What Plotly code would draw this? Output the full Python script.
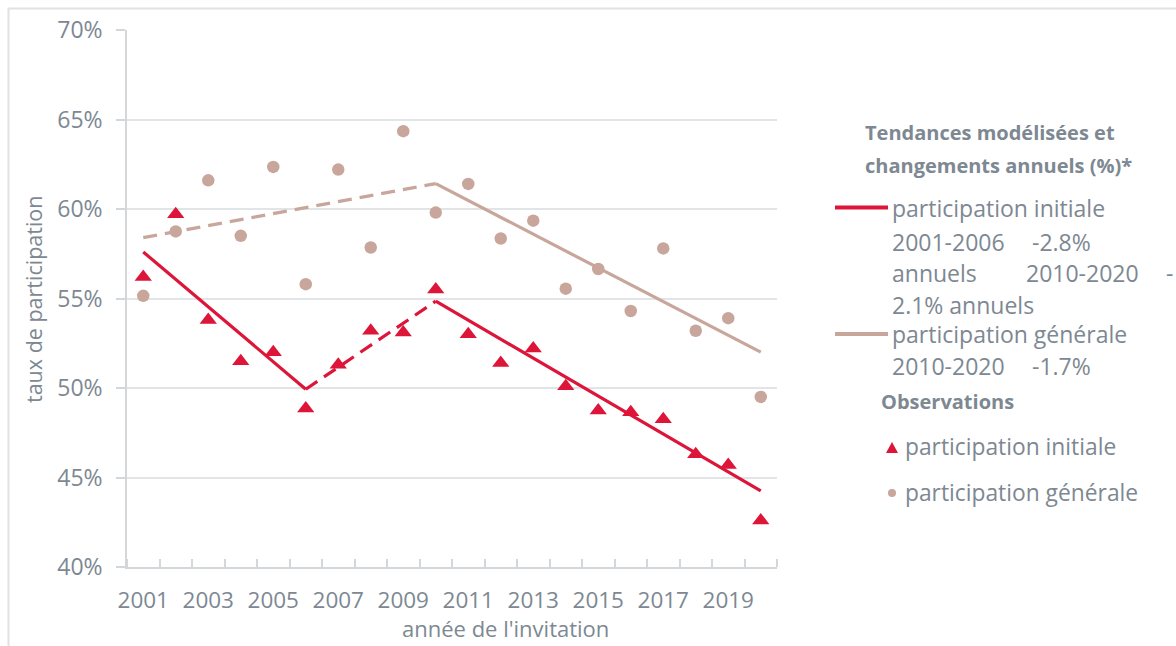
import plotly.graph_objects as go

# ---- data ----
years = list(range(2001, 2021))
initiale_obs = [56.2, 59.7, 53.8, 51.5, 52.0, 48.85, 51.3, 53.2, 53.1, 55.5,
                53.0, 51.4, 52.2, 50.1, 48.75, 48.65, 48.25, 46.3, 45.7, 42.6]
generale_obs = [55.15, 58.75, 61.6, 58.5, 62.35, 55.8, 62.2, 57.85, 64.35, 59.8,
                61.4, 58.35, 59.35, 55.55, 56.65, 54.3, 57.8, 53.2, 53.9, 49.5]

# modelled trends (segment end points)
init_trend1_x = [2001, 2006]
init_trend1_y = [57.6, 49.93]
init_trend2_x = [2006, 2010]
init_trend2_y = [49.93, 54.85]
init_trend3_x = [2010, 2020]
init_trend3_y = [54.85, 44.25]
gen_trend1_x = [2001, 2010]
gen_trend1_y = [58.4, 61.42]
gen_trend2_x = [2010, 2020]
gen_trend2_y = [61.42, 52.0]

y_ticks = [40, 45, 50, 55, 60, 65, 70]
x_tick_years = [2001, 2003, 2005, 2007, 2009, 2011, 2013, 2015, 2017, 2019]

RED = "#DC1539"
TAN = "#C8A69B"
GREY = "#7D8892"
GRID = "#E2E5E7"
AXIS = "#D3D7DA"
FONT = "Open Sans"

W, H = 1176, 646
L, R, T, B = 127, 777, 30, 567

fig = go.Figure()

def seg(x, y, color, dash):
    fig.add_trace(go.Scatter(x=x, y=y, mode="lines",
                             line=dict(color=color, width=3.2, dash=dash),
                             showlegend=False, hoverinfo="skip"))

seg(gen_trend1_x, gen_trend1_y, TAN, "14px,8px")
seg(gen_trend2_x, gen_trend2_y, TAN, "solid")
seg(init_trend1_x, init_trend1_y, RED, "solid")
seg(init_trend2_x, init_trend2_y, RED, "14px,8px")
seg(init_trend3_x, init_trend3_y, RED, "solid")

fig.add_trace(go.Scatter(x=years, y=generale_obs, mode="markers",
                         marker=dict(symbol="circle", size=12.5, color=TAN),
                         showlegend=False))
fig.add_trace(go.Scatter(x=years, y=initiale_obs, mode="markers",
                         marker=dict(symbol="triangle-up", size=15, color=RED),
                         showlegend=False))

boundaries = [y - 0.5 for y in years] + [years[-1] + 0.5]

fig.update_xaxes(
    range=[years[0] - 0.5, years[-1] + 0.5],
    tickmode="array", tickvals=x_tick_years, ticktext=[str(v) for v in x_tick_years],
    ticks="", showgrid=False, zeroline=False,
    showline=True, linecolor=AXIS, linewidth=1.5,
    tickfont=dict(family=FONT, size=22.5, color=GREY),
    ticklabelstandoff=12,
    minor=dict(tickmode="array", tickvals=boundaries, ticks="inside",
               ticklen=8, tickcolor=AXIS, tickwidth=1.5, showgrid=False),
)
fig.update_yaxes(
    range=[40, 70], tickmode="array", tickvals=y_ticks,
    ticktext=[f"{v}%" for v in y_ticks],
    ticks="outside", ticklen=9, tickcolor=AXIS, tickwidth=1.5,
    showgrid=True, gridcolor=GRID, gridwidth=1.5, zeroline=False,
    showline=True, linecolor=AXIS, linewidth=1.5,
    tickfont=dict(family=FONT, size=23, color=GREY),
    ticklabelstandoff=9,
)

def px_x(p):
    return (p - L) / (R - L)

def px_y(p):
    return (B - p) / (B - T)

annos = []
def txt(s, x, y, size=23, bold=False, color=GREY, xanchor="left", angle=0):
    annos.append(dict(text=f"<b>{s}</b>" if bold else s, xref="paper", yref="paper",
                      x=px_x(x), y=px_y(y), xanchor=xanchor, yanchor="middle",
                      textangle=angle, showarrow=False, borderpad=0,
                      font=dict(family=FONT, size=size, color=color)))

# axis titles
txt("année de l'invitation", 505, 628, 22, xanchor="center")
txt("taux de participation", 33, 300, 21.5, xanchor="center", angle=-90)

# custom legend
txt("Tendances modélisées et", 864, 132, 20, True)
txt("changements annuels (%)*", 864, 165, 20, True)
txt("participation initiale", 891, 208)
txt("2001-2006", 891, 242)
txt("-2.8%", 1031, 242)
txt("annuels", 891, 273)
txt("2010-2020", 1025, 273)
txt("-", 1165, 273)
txt("2.1% annuels", 891, 305)
txt("participation générale", 891, 334)
txt("2010-2020", 891, 366)
txt("-1.7%", 1031, 366)
txt("Observations", 880, 402, 20, True)
txt("participation initiale", 904, 446, 22.8)
txt("participation générale", 904, 492, 22.8)

shapes = [
    # outer frame
    dict(type="rect", xref="paper", yref="paper", x0=px_x(8.5), x1=px_x(1200),
         y0=px_y(8.5), y1=px_y(700), line=dict(color="#DFE3E3", width=2)),
    # legend keys
    dict(type="line", xref="paper", yref="paper", x0=px_x(835), x1=px_x(888),
         y0=px_y(207.5), y1=px_y(207.5), line=dict(color=RED, width=4)),
    dict(type="line", xref="paper", yref="paper", x0=px_x(835), x1=px_x(888),
         y0=px_y(334), y1=px_y(334), line=dict(color=TAN, width=4)),
    dict(type="path", xref="paper", yref="paper",
         path=f"M {px_x(886)} {px_y(453)} L {px_x(898)} {px_y(453)} L {px_x(892)} {px_y(442)} Z",
         fillcolor=RED, line=dict(width=0)),
    dict(type="circle", xref="paper", yref="paper", x0=px_x(888), x1=px_x(896),
         y0=px_y(489), y1=px_y(497), fillcolor=TAN, line=dict(width=0)),
]

fig.update_layout(
    width=W, height=H,
    margin=dict(l=L, r=W - R, t=T, b=H - B),
    plot_bgcolor="white", paper_bgcolor="white",
    showlegend=False,
    annotations=annos, shapes=shapes,
    font=dict(family=FONT, color=GREY),
)

fig.write_html("out.html", config={"displayModeBar": False},
               post_script="document.body.style.margin='0px';document.body.style.overflow='hidden';")
